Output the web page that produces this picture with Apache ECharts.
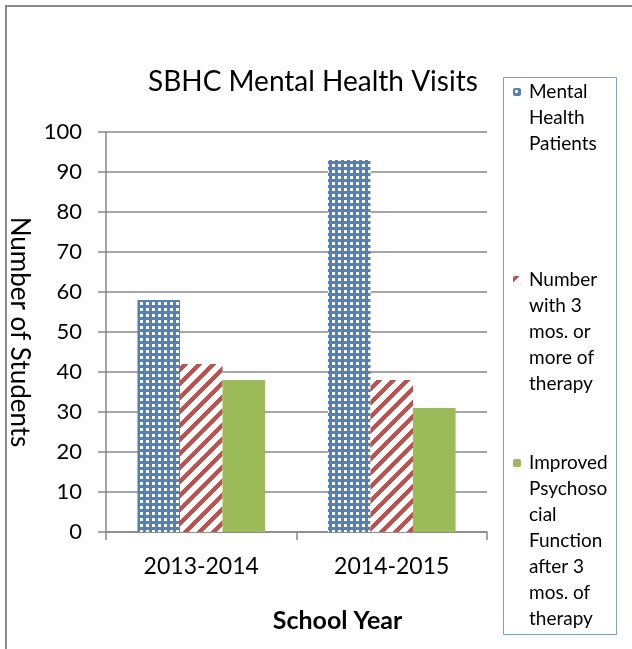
<!DOCTYPE html>
<html>
<head>
<meta charset="utf-8">
<title>SBHC Mental Health Visits</title>
<script src="https://cdn.jsdelivr.net/npm/echarts@6/dist/echarts.min.js"></script>
<style>
html, body { margin: 0; padding: 0; background: #fff; }
#chart { width: 632px; height: 649px; }
</style>
</head>
<body>
<div id="chart"></div>
<script>
// 数据
const years = ['2013-2014', '2014-2015']
const seriesNames = [
	'Mental\nHealth\nPatients',
	'Number\nwith 3\nmos. or\nmore of\ntherapy',
	'Improved\nPsychoso\ncial\nFunction\nafter 3\nmos. of\ntherapy'
]
const mentalHealth = [58, 93]
const threeMonths = [42, 38]
const improved = [38, 31]
const yMin = 0
const yMax = 100
const yStep = 10

const FONT = 'Lato'
const LINE_H = 26
// 图例每项第一行的中心位置
const legendRows = [92, 280, 463]

// 蓝色网格花纹
const bluePattern = (() => {
	const c = document.createElement('canvas')
	c.width = 6
	c.height = 6
	const ctx = c.getContext('2d')
	ctx.fillStyle = '#4F81BD'
	ctx.fillRect(0, 0, 6, 6)
	ctx.fillStyle = '#ffffff'
	ctx.fillRect(2, 2, 3, 3)
	return c
})()

// 红色斜线花纹
const redPattern = (() => {
	const n = 14
	const c = document.createElement('canvas')
	c.width = n
	c.height = n
	const ctx = c.getContext('2d')
	ctx.fillStyle = '#ffffff'
	ctx.fillRect(0, 0, n, n)
	ctx.fillStyle = '#C0504D'
	for (let x = 0; x < n; x++) {
		for (let y = 0; y < n; y++) {
			if ((x + y) % n < 6) ctx.fillRect(x, y, 1, 1)
		}
	}
	return c
})()

const colors = [
	{ image: bluePattern, repeat: 'repeat' },
	{ image: redPattern, repeat: 'repeat' },
	'#9BBB59'
]
const values = [mentalHealth, threeMonths, improved]

const chart = echarts.init(document.getElementById('chart'), null, { renderer: 'canvas' })

// 每个图例单独放置；前面补空行，让第一行文字和图标对齐
const legends = seriesNames.map((name, i) => {
	const lines = name.split('\n').length
	return {
		data: [{ name: name }],
		formatter: function (n) {
			return '\n'.repeat(lines - 1) + n
		},
		left: 513,
		top: legendRows[i] - (2 * lines - 1) * LINE_H / 2,
		padding: 0,
		itemWidth: 8,
		itemHeight: 8,
		selectedMode: false,
		textStyle: {
			fontFamily: FONT,
			fontSize: 19,
			color: '#000',
			lineHeight: LINE_H,
			padding: [0, 0, 0, 3]
		}
	}
})

const option = {
	animation: false,
	backgroundColor: '#fff',
	title: {
		text: 'SBHC Mental Health Visits',
		left: 143,
		top: 63,
		textStyle: { fontFamily: FONT, fontSize: 28, fontWeight: 'normal', color: '#000' }
	},
	legend: legends,
	graphic: [
		{
			type: 'rect',
			shape: { x: 6, y: 6, width: 900, height: 900 },
			style: { fill: 'none', stroke: '#888', lineWidth: 2 },
			silent: true
		},
		{
			type: 'rect',
			shape: { x: 503.5, y: 77.5, width: 113, height: 557 },
			style: { fill: 'none', stroke: '#7BA0CD', lineWidth: 1 },
			silent: true
		}
	],
	grid: {
		left: 106,
		right: 145,
		top: 132,
		bottom: 117,
		containLabel: false,
		outerBoundsMode: 'none'
	},
	xAxis: {
		type: 'category',
		data: years,
		name: 'School Year',
		nameLocation: 'middle',
		nameGap: 76,
		// 标题略偏右
		nameTextStyle: { fontFamily: FONT, fontSize: 25, fontWeight: 'bold', color: '#000', padding: [0, 0, 0, 82] },
		axisLine: { lineStyle: { color: '#888', width: 1.5 } },
		axisTick: { show: true, length: 8, lineStyle: { color: '#888', width: 1.5 } },
		axisLabel: { fontFamily: FONT, fontSize: 23, color: '#000', margin: 23 }
	},
	yAxis: {
		type: 'value',
		min: yMin,
		max: yMax,
		interval: yStep,
		name: 'Number of Students',
		nameLocation: 'middle',
		nameRotate: -90,
		nameGap: 59,
		nameTextStyle: { fontFamily: FONT, fontSize: 26, color: '#000' },
		axisLine: { show: true, lineStyle: { color: '#888', width: 1.5 } },
		axisTick: { show: true, length: 8, lineStyle: { color: '#888', width: 1.5 } },
		axisLabel: { fontFamily: FONT, fontSize: 22, color: '#000', margin: 24 },
		splitLine: { lineStyle: { color: '#888', width: 1.5 } }
	},
	series: seriesNames.map((name, i) => ({
		name: name,
		type: 'bar',
		data: values[i],
		barGap: 0,
		barCategoryGap: '33%',
		itemStyle: { color: colors[i] }
	}))
}

chart.setOption(option)
window.addEventListener('resize', function () {
	chart.resize()
})
</script>
</body>
</html>
